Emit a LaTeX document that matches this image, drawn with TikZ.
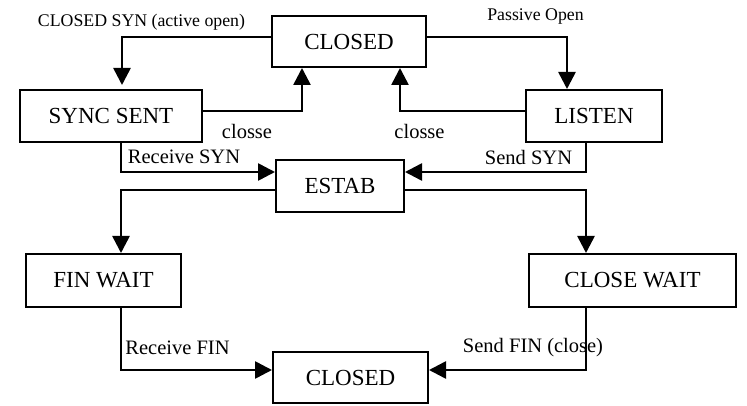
\documentclass[tikz,border=0pt]{standalone}
\usepackage{fontspec}
\setmainfont{Liberation Serif}
\usetikzlibrary{arrows.meta}
\begin{document}
\begin{tikzpicture}[x=1pt,y=-1pt,
  state/.style={draw,line width=2pt,inner sep=0pt,font=\fontsize{23}{27}\selectfont},
  arr/.style={line width=2.6pt,-{Triangle[length=17pt,width=17pt]}},
  lbl/.style={inner sep=0pt,font=\fontsize{20.5}{24}\selectfont},
  small/.style={inner sep=0pt,font=\fontsize{17.8}{21}\selectfont}]
\useasboundingbox (0,0) rectangle (747,406);
\node[state,minimum width=154pt,minimum height=51pt] (ct) at (349,41.5) {CLOSED};
\node[state,minimum width=182pt,minimum height=52pt] (ss) at (111,116) {SYNC SENT};
\node[state,minimum width=136pt,minimum height=52pt] (li) at (594,116) {LISTEN};
\node[state,minimum width=128pt,minimum height=52pt] (es) at (340,186) {ESTAB};
\node[state,minimum width=155pt,minimum height=53pt] (fw) at (103.5,280.5) {FIN WAIT};
\node[state,minimum width=207pt,minimum height=53pt] (cw) at (632.5,280.5) {CLOSE WAIT};
\node[state,minimum width=155pt,minimum height=51pt] (cb) at (350.5,377.5) {CLOSED};

\draw[arr,shorten >=4pt] ([yshift=4.5pt]ct.west) -| ([xshift=11pt]ss.north);
\draw[arr] ([yshift=5pt]ss.east) -| ([xshift=-47pt]ct.south);
\draw[arr] ([yshift=4.5pt]ct.east) -| ([xshift=-27pt]li.north);
\draw[arr] ([yshift=5pt]li.west) -| ([xshift=51pt]ct.south);
\draw[arr] ([xshift=10pt]ss.south) |- ([yshift=14pt]es.west);
\draw[arr] ([xshift=-8pt]li.south) |- ([yshift=14pt]es.east);
\draw[arr] ([yshift=-4pt]es.west) -| ([xshift=17.5pt]fw.north);
\draw[arr] ([yshift=-4pt]es.east) -| ([xshift=-46.5pt]cw.north);
\draw[arr] ([xshift=17.5pt]fw.south) |- ([yshift=7.5pt]cb.west);
\draw[arr] ([xshift=-46.5pt]cw.south) |- ([yshift=7.5pt]cb.east);

\node[small] (l1) at (141.5,22) {CLOSED SYN (active open)};
\node[small] (l2) at (535.5,17) {Passive Open};
\node[lbl] (l3) at (247,131) {closse};
\node[lbl] (l4) at (419.5,131) {closse};
\node[lbl] (l5) at (184,157) {Receive SYN};
\node[lbl] (l6) at (528.5,157) {Send SYN};
\node[lbl] (l7) at (177.5,348) {Receive FIN};
\node[lbl] (l8) at (533,348) {Send FIN (close)};
\end{tikzpicture}
\end{document}
